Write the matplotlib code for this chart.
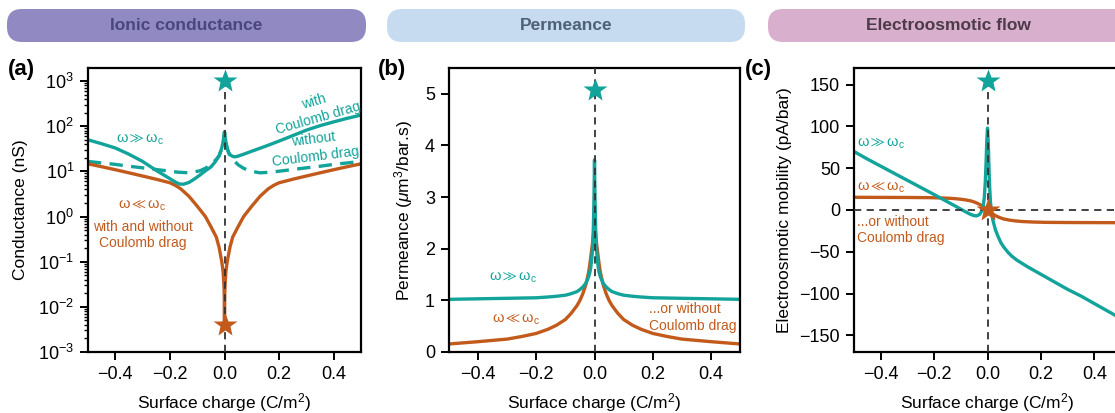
import matplotlib
matplotlib.use("Agg")
import matplotlib.pyplot as plt
from matplotlib.patches import FancyBboxPatch

plt.rcParams["font.family"] = ["Liberation Sans", "DejaVu Sans"]
plt.rcParams["mathtext.fontset"] = "custom"
plt.rcParams["mathtext.rm"] = "Liberation Sans"
plt.rcParams["mathtext.it"] = "Liberation Sans:italic"
plt.rcParams["mathtext.fallback"] = "stixsans"
plt.rcParams["axes.linewidth"] = 1.6

TEAL = "#12a39a"
ORANGE = "#c25a1c"

# ---- (a) ionic conductance (nS) ----
sig_a_with = [-0.5, -0.45, -0.4, -0.35, -0.3, -0.25, -0.2, -0.18, -0.165, -0.15, -0.13,
              -0.11, -0.09, -0.07, -0.05, -0.035, -0.02, -0.012, -0.006, -0.003, 0.0,
              0.003, 0.006, 0.01, 0.015, 0.022, 0.03, 0.038, 0.05, 0.07, 0.1,
              0.15, 0.2, 0.25, 0.3, 0.35, 0.4, 0.45, 0.5]
g_with = [50, 41, 33, 24, 16.6, 10.5, 6.9, 5.8, 5.25, 5.2, 5.7,
          6.8, 8.3, 10.3, 12.5, 16, 22, 30, 42, 55, 75,
          55, 42, 32, 26, 23, 21.5, 21, 21.8, 24, 28,
          36, 47, 62, 82, 103, 125, 150, 177]

# symmetric curves: values given for sigma >= 0, mirrored below
sig_a_half = [0.0, 0.004, 0.01, 0.02, 0.032, 0.05, 0.068, 0.09, 0.13, 0.17, 0.2,
              0.25, 0.3, 0.35, 0.4, 0.45, 0.5]
g_without_half = [75, 45, 32, 22, 18, 14, 11.9, 10.3, 9.3, 9.6, 10.1,
                  11, 12, 13, 14.3, 15.4, 16.6]

sig_low_half = [0.0, 0.0005, 0.001, 0.002, 0.005, 0.01, 0.02, 0.03, 0.05, 0.07, 0.1,
                0.13, 0.16, 0.18, 0.2, 0.25, 0.3, 0.35, 0.4, 0.45, 0.5]
g_low_half = [0.004, 0.012, 0.02, 0.03, 0.06, 0.1, 0.21, 0.35, 0.6, 1.0, 1.7,
              2.8, 4.1, 4.9, 5.6, 6.7, 7.9, 9.3, 10.9, 12.7, 14.7]

# ---- (b) permeance (um^3/bar.s), sigma >= 0, mirrored ----
sig_b_half = [0.0, 0.001, 0.002, 0.004, 0.006, 0.008, 0.01, 0.013, 0.016, 0.02, 0.025,
              0.03, 0.04, 0.05, 0.06, 0.08, 0.1, 0.13, 0.16, 0.2, 0.25, 0.3, 0.4, 0.5]
perm_high_half = [3.72, 3.3, 2.9, 2.4, 2.1, 1.9, 1.78, 1.63, 1.54, 1.46, 1.39,
                  1.33, 1.26, 1.21, 1.17, 1.13, 1.10, 1.08, 1.065, 1.05, 1.045, 1.04, 1.03, 1.02]
perm_low_half = [2.45, 2.4, 2.35, 2.25, 2.15, 2.05, 1.97, 1.83, 1.70, 1.55, 1.42,
                 1.30, 1.13, 1.0, 0.90, 0.75, 0.63, 0.52, 0.44, 0.36, 0.30, 0.25, 0.20, 0.155]

# ---- (c) electroosmotic mobility (pA/bar) ----
sig_c_high = [-0.5, -0.45, -0.4, -0.35, -0.3, -0.25, -0.2, -0.15, -0.12, -0.1, -0.08,
              -0.065, -0.05, -0.04, -0.03, -0.022, -0.016, -0.012, -0.008, -0.005, -0.003,
              0.0, 0.003, 0.005, 0.008, 0.011, 0.015, 0.02, 0.03, 0.04, 0.05, 0.06, 0.075,
              0.09, 0.11, 0.15, 0.2, 0.25, 0.3, 0.35, 0.4, 0.45, 0.5]
mob_high = [70, 61, 52.5, 44, 35.5, 27, 18.5, 9.8, 4.6, 1.0, -2.5,
            -5, -6.8, -7, -5.5, -1.5, 5, 15, 35, 60, 80,
            98, 80, 55, 28, 10, -3, -12, -24, -32, -39, -44, -50,
            -55, -60, -68, -77, -86, -95, -103, -112, -121, -130]

sig_c_low_half = [0.0, 0.01, 0.02, 0.03, 0.045, 0.06, 0.08, 0.1, 0.13, 0.17, 0.22,
                  0.3, 0.4, 0.5]
mob_low_half = [0, -2.5, -4.8, -6.8, -9, -10.7, -12, -12.9, -13.8, -14.4, -14.8,
                -15, -15.1, -15.2]

stars_a = [1000, 0.004]
stars_b = [5.08]
stars_c = [155, 0]


def mirror_even(xs, ys):
    return [-x for x in xs[:0:-1]] + xs, ys[:0:-1] + ys


def mirror_odd(xs, ys):
    return [-x for x in xs[:0:-1]] + xs, [-y for y in ys[:0:-1]] + ys


sig_a_without, g_without = mirror_even(sig_a_half, g_without_half)
sig_a_low, g_low = mirror_even(sig_low_half, g_low_half)
sig_b, perm_high = mirror_even(sig_b_half, perm_high_half)
_, perm_low = mirror_even(sig_b_half, perm_low_half)
sig_c_low, mob_low = mirror_odd(sig_c_low_half, mob_low_half)

W, H = 1115, 413
fig = plt.figure(figsize=(W / 100, H / 100), dpi=100)

# header bars drawn in pixel space
bg = fig.add_axes([0, 0, 1, 1], zorder=-1)
bg.set_xlim(0, W)
bg.set_ylim(H, 0)
bg.axis("off")
headers = [
    ("Ionic conductance", 7, 366, 186, "#9189c1", "#4a4680"),
    ("Permeance", 387, 745, 566, "#c6dbf0", "#4f6178"),
    ("Electroosmotic flow", 768, 1140, 948, "#d8afcd", "#4d3b49"),
]
for title, x0, x1, xc, fc, tc in headers:
    bg.add_patch(FancyBboxPatch((x0, 9), x1 - x0, 33,
                                boxstyle="round,pad=0,rounding_size=15",
                                fc=fc, ec="none"))
    bg.text(xc, 26, title, ha="center", va="center",
            fontsize=12.5, fontweight="bold", color=tc)

bottom, height = 1 - 352 / H, (352 - 68) / H
ax_a = fig.add_axes([88 / W, bottom, (361 - 88) / W, height])
ax_b = fig.add_axes([449 / W, bottom, (740 - 449) / W, height])
ax_c = fig.add_axes([854 / W, bottom, (1121 - 854) / W, height])

for ax in (ax_a, ax_b, ax_c):
    ax.set_xlim(-0.5, 0.5)
    ax.set_xticks([-0.4, -0.2, 0.0, 0.2, 0.4])
    ax.tick_params(which="major", direction="out", length=6, width=1.4,
                   labelsize=13, pad=4)
    ax.set_xlabel("Surface charge (C/m$^2$)", fontsize=12.5, labelpad=6)

lw = 2.4
dash_kw = dict(color="#333333", lw=1.3, ls=(0, (4, 3)), zorder=5)
w_gg = r"$\mathrm{ω}{\gg}\mathrm{ω}_\mathrm{c}$"
w_ll = r"$\mathrm{ω}{\ll}\mathrm{ω}_\mathrm{c}$"

# (a)
ax_a.set_yscale("log")
ax_a.set_ylim(1e-3, 1.95e3)
ax_a.set_yticks([1e-3, 1e-2, 1e-1, 1e0, 1e1, 1e2, 1e3])
ax_a.tick_params(which="minor", direction="out", length=3, width=1.0)
ax_a.plot(sig_a_without, g_without, color=TEAL, lw=lw, ls=(0, (4, 2.5)))
ax_a.plot(sig_a_low, g_low, color=ORANGE, lw=lw)
ax_a.plot(sig_a_with, g_with, color=TEAL, lw=lw)
ax_a.plot([0, 0], [1e-3, stars_a[0]], **dash_kw)
ax_a.plot([0], [stars_a[0]], marker="*", ms=18, color=TEAL, mec="none", zorder=6)
ax_a.plot([0], [stars_a[1]], marker="*", ms=18, color=ORANGE, mec="none", zorder=6)
ax_a.set_ylabel("Conductance (nS)", fontsize=12.5, labelpad=7)
ax_a.text(-0.31, 50, w_gg, color=TEAL, fontsize=10.5, ha="center", va="center")
ax_a.text(0.335, 227, "with\nCoulomb drag", color=TEAL, fontsize=10, ha="center",
          va="center", rotation=16, linespacing=1.25)
ax_a.text(0.33, 33, "without\nCoulomb drag", color=TEAL, fontsize=10, ha="center",
          va="center", rotation=7, linespacing=1.3)
ax_a.text(-0.3, 1.75, w_ll, color=ORANGE, fontsize=10.5, ha="center", va="center")
ax_a.text(-0.3, 0.39, "with and without\nCoulomb drag", color=ORANGE, fontsize=10,
          ha="center", va="center", linespacing=1.2)

# (b)
ax_b.set_ylim(0, 5.5)
ax_b.set_yticks([0, 1, 2, 3, 4, 5])
ax_b.plot(sig_b, perm_low, color=ORANGE, lw=lw)
ax_b.plot(sig_b, perm_high, color=TEAL, lw=lw)
ax_b.axvline(0, **dash_kw)
ax_b.plot([0], stars_b, marker="*", ms=18, color=TEAL, mec="none", zorder=6)
ax_b.set_ylabel("Permeance ($\\mu$m$^3$/bar.s)", fontsize=12.5, labelpad=7)
ax_b.text(-0.28, 1.43, w_gg, color=TEAL, fontsize=10.5, ha="center", va="center")
ax_b.text(-0.27, 0.62, w_ll, color=ORANGE, fontsize=10.5, ha="center", va="center")
ax_b.text(0.186, 0.67, "...or without\nCoulomb drag", color=ORANGE, fontsize=10,
          ha="left", va="center", linespacing=1.2)

# (c)
ax_c.set_ylim(-170, 170)
ax_c.set_yticks([-150, -100, -50, 0, 50, 100, 150])
ax_c.plot(sig_c_low, mob_low, color=ORANGE, lw=lw)
ax_c.plot(sig_c_high, mob_high, color=TEAL, lw=lw)
ax_c.axhline(0, **dash_kw)
ax_c.plot([0, 0], [-170, stars_c[0]], **dash_kw)
ax_c.plot([0], [stars_c[0]], marker="*", ms=18, color=TEAL, mec="none", zorder=6)
ax_c.plot([0], [stars_c[1]], marker="*", ms=18, color=ORANGE, mec="none", zorder=6)
ax_c.set_ylabel("Electroosmotic mobility (pA/bar)", fontsize=12.5, labelpad=5)
ax_c.text(-0.49, 79, w_gg, color=TEAL, fontsize=10.5, ha="left", va="center")
ax_c.text(-0.49, 27, w_ll, color=ORANGE, fontsize=10.5, ha="left", va="center")
ax_c.text(-0.49, -24, "...or without\nCoulomb drag", color=ORANGE, fontsize=10,
          ha="left", va="center", linespacing=1.2)

for lab, x in (("(a)", 8), ("(b)", 378), ("(c)", 745)):
    bg.text(x, 70, lab, fontsize=16, fontweight="bold", ha="left", va="center")

fig.savefig("out.png", dpi=100)
